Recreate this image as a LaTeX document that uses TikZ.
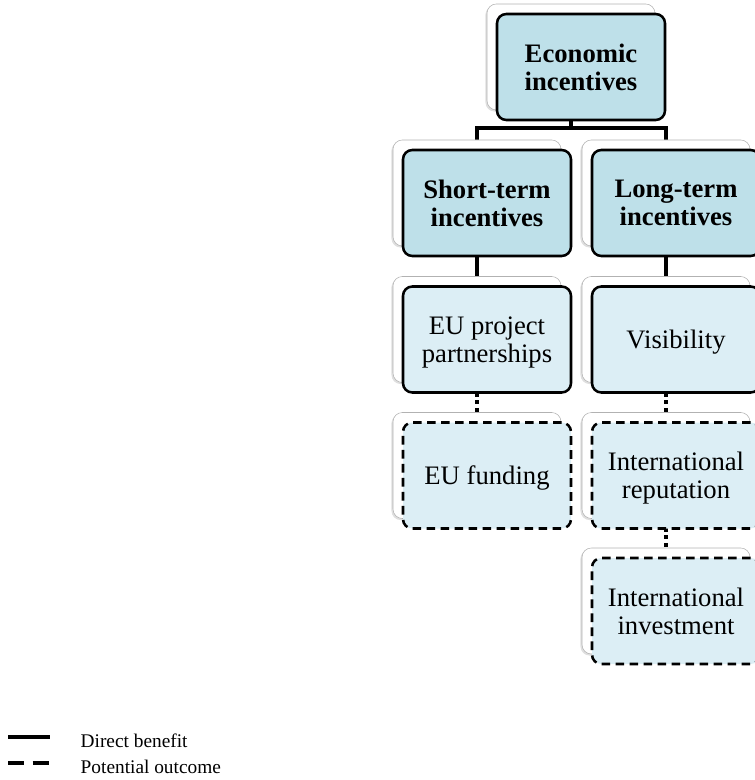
\documentclass[tikz,border=0pt]{standalone}
\usepackage{fontspec}
\setmainfont{Liberation Serif}
\usetikzlibrary{shadows}
\definecolor{topblue}{HTML}{BEE0E9}
\definecolor{lowblue}{HTML}{DCEEF5}
\tikzset{
  card/.style={draw=gray!60, fill=white, rounded corners=7pt, minimum width=126pt,
     minimum height=79.5pt, inner sep=0pt, outer sep=0pt,
     drop shadow={shadow xshift=-1.2pt, shadow yshift=-1.2pt, opacity=0.25}},
  frontbox/.style={draw, line width=1.9pt, rounded corners=7pt, minimum width=126pt,
     minimum height=79.5pt, inner sep=0pt, outer sep=0pt, align=center,
     text depth=0pt, font=\fontsize{20}{21}\selectfont},
  headbox/.style={frontbox, fill=topblue, font=\fontsize{20}{21}\selectfont\bfseries},
  benefit/.style={frontbox, fill=lowblue},
  potential/.style={frontbox, fill=lowblue, dash pattern=on 6.5pt off 4pt},
  conn/.style={line width=2.8pt},
  dotconn/.style={line width=3pt, dash pattern=on 3pt off 2.6pt}
}
\begin{document}
\begin{tikzpicture}[x=0.75pt,y=-0.75pt]
\useasboundingbox (0,0) rectangle (754,780);

% connectors first, the cards sit on top
\draw [conn] (571,120) -- (571,128) -| (477,145);
\draw [conn] (571,128) -| (666,145);
\draw [conn] (477,255) -- (477,282);
\draw [conn] (666,255) -- (666,282);
\draw [dotconn] (477,393) -- (477,416);
\draw [dotconn] (666,393) -- (666,416);
\draw [dotconn] (666,528) -- (666,552);

% back cards
\node [card] (econbg)   at (571,57)  {};
\node [card] (shortbg)  at (477,193) {};
\node [card] (longbg)   at (666,193) {};
\node [card] (eubg)     at (477,329.5) {};
\node [card] (visbg)    at (666,329.5) {};
\node [card] (fundbg)   at (477,465.5) {};
\node [card] (repbg)    at (666,465.5) {};
\node [card] (investbg) at (666,601) {};

% front boxes
\node [headbox] (econ)   at (581,67)  {Economic\\incentives};
\node [headbox] (short)  at (487,203) {Short-term\\incentives};
\node [headbox] (long)   at (676,203) {Long-term\\incentives};
\node [benefit] (eu)     at (487,339.5) {EU project\\partnerships};
\node [benefit] (vis)    at (676,339.5) {Visibility};
\node [potential] (fund)   at (487,475.5) {EU funding};
\node [potential] (rep)    at (676,475.5) {International\\reputation};
\node [potential] (invest) at (676,611)   {International\\investment};

% legend
\coordinate (solidA) at (8,737);
\coordinate (solidB) at (50,737);
\coordinate (dashA) at (8,763);
\coordinate (dashB) at (50,763);
\draw [line width=2.6pt] (solidA) -- (solidB);
\draw [line width=2.6pt, dash pattern=on 12pt off 6.5pt] (dashA) -- (dashB);
\node [anchor=west, font=\fontsize{14.5}{16}\selectfont] (direct) at (76,741) {Direct benefit};
\node [anchor=west, font=\fontsize{14.5}{16}\selectfont] (potent) at (76,767) {Potential outcome};
\end{tikzpicture}
\end{document}
